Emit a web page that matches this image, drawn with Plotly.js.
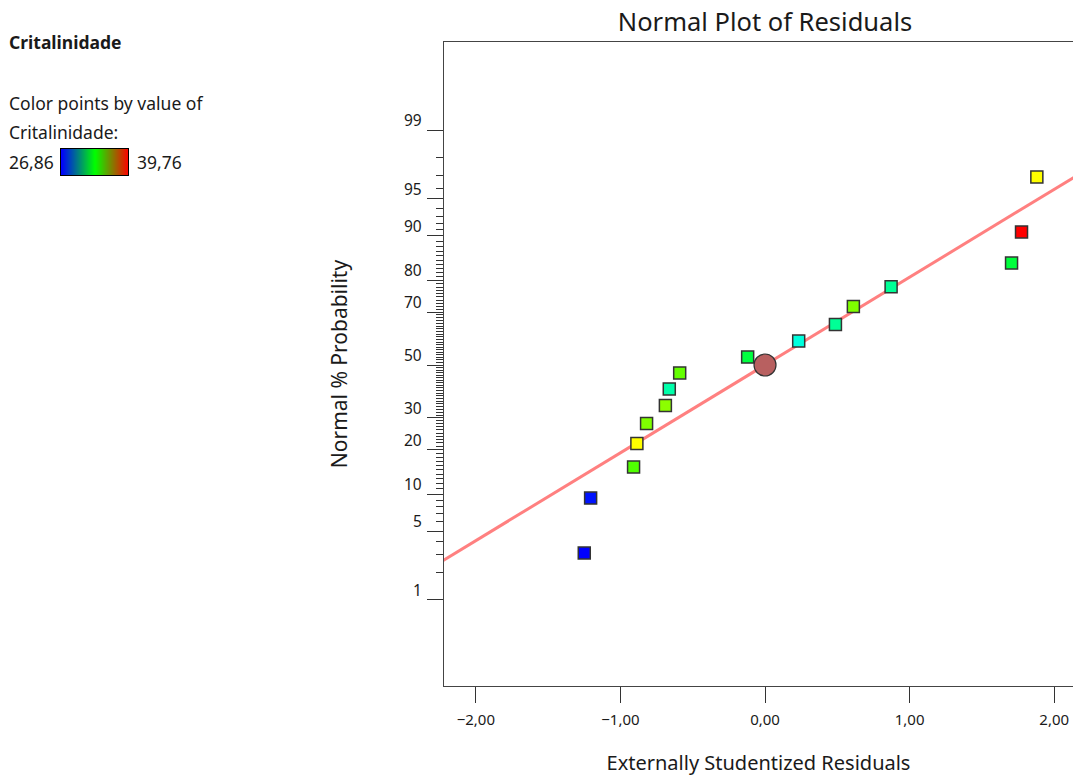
<!DOCTYPE html>
<html>
<head>
<meta charset="utf-8">
<script src="https://cdn.plot.ly/plotly-3.0.1.min.js"></script>
<style>
  html, body { margin: 0; padding: 0; background: #ffffff; }
  #chart { width: 1073px; height: 776px; }
</style>
</head>
<body>
<div id="chart"></div>
<script>
// Externally studentized residuals, sorted ascending
const residuals = [-1.250, -1.206, -0.909, -0.886, -0.819, -0.689, -0.662, -0.590,
                   -0.120, 0.233, 0.487, 0.611, 0.872, 1.705, 1.774, 1.880];
// Normal % probability of each ranked residual
const normalPct = [3.125, 9.375, 15.625, 21.875, 28.125, 34.375, 40.625, 46.875,
                   53.125, 59.375, 65.625, 71.875, 78.125, 84.375, 90.625, 96.875];
// Response value used to colour each point
const critalinidade = [26.86, 27.10, 34.32, 36.54, 34.92, 35.08, 31.16, 34.58,
                       32.50, 30.52, 31.41, 34.92, 31.41, 32.55, 39.76, 36.54];
const colorMin = 26.86;
const colorMax = 39.76;

// Probability axis ticks
const majorPct = [1, 5, 10, 20, 30, 50, 70, 80, 90, 95, 99];
const majorLabels = ['1', '5', '10', '20', '30', '50', '70', '80', '90', '95', '99'];

// Reference line through the origin (in normal-score units per residual unit)
const fitSlope = 0.87;
const fitX = [-2.4, 2.4];

const xTickVals = [-2, -1, 0, 1, 2];

// Inverse of the standard normal CDF (Acklam's rational approximation)
function probit(p) {
  const a = [-3.969683028665376e+01, 2.209460984245205e+02, -2.759285104469687e+02,
             1.383577518672690e+02, -3.066479806614716e+01, 2.506628277459239e+00];
  const b = [-5.447609879822406e+01, 1.615858368580409e+02, -1.556989798598866e+02,
             6.680131188771972e+01, -1.328068155288572e+01];
  const c = [-7.784894002430293e-03, -3.223964580411365e-01, -2.400758277161838e+00,
             -2.549732539343734e+00, 4.374664141464968e+00, 2.938163982698783e+00];
  const d = [7.784695709041462e-03, 3.224671290700398e-01, 2.445134137142996e+00,
             3.754408661907416e+00];
  const pl = 0.02425, ph = 1 - pl;
  let q, r;
  if (p < pl) {
    q = Math.sqrt(-2 * Math.log(p));
    return (((((c[0]*q+c[1])*q+c[2])*q+c[3])*q+c[4])*q+c[5]) /
           ((((d[0]*q+d[1])*q+d[2])*q+d[3])*q+1);
  }
  if (p <= ph) {
    q = p - 0.5; r = q * q;
    return (((((a[0]*r+a[1])*r+a[2])*r+a[3])*r+a[4])*r+a[5])*q /
           (((((b[0]*r+b[1])*r+b[2])*r+b[3])*r+b[4])*r+1);
  }
  q = Math.sqrt(-2 * Math.log(1 - p));
  return -(((((c[0]*q+c[1])*q+c[2])*q+c[3])*q+c[4])*q+c[5]) /
          ((((d[0]*q+d[1])*q+d[2])*q+d[3])*q+1);
}
const pctToZ = v => probit(v / 100);

// Minor ticks at every whole percent that has no label
const minorPct = [];
for (let k = 2; k <= 98; k++) if (!majorPct.includes(k)) minorPct.push(k);

const FONT = '"Noto Sans", "Open Sans", sans-serif';
const INK = '#1a1a1a';
const W = 1073, H = 776;
const M = { l: 0, r: 0, t: 42, b: 90 };
const plotH = H - M.t - M.b;
// page pixel -> paper fraction
const pxX = x => x / W;
const pxY = y => 1 - (y - M.t) / plotH;

const pointScale = [[0, '#0000ff'], [0.25, '#00ffff'], [0.5, '#00ff00'], [0.75, '#ffff00'], [1, '#ff0000']];
const keyScale = [[0, '#0000ff'], [0.5, '#00ff00'], [1, '#ff0000']];

const traces = [
  {
    type: 'scatter', mode: 'lines',
    x: fitX, y: fitX.map(x => fitSlope * x),
    line: { color: '#ff8080', width: 3 },
    hoverinfo: 'skip', showlegend: false
  },
  {
    type: 'scatter', mode: 'markers',
    x: [0], y: [pctToZ(50)],
    marker: { symbol: 'circle', size: 22, color: '#b86060', line: { color: '#333333', width: 1.2 } },
    hoverinfo: 'skip', showlegend: false
  },
  {
    type: 'scatter', mode: 'markers',
    x: residuals, y: normalPct.map(pctToZ),
    text: critalinidade.map(v => v.toFixed(2)),
    marker: {
      symbol: 'square', size: 12,
      color: critalinidade, cmin: colorMin, cmax: colorMax,
      colorscale: pointScale, showscale: false,
      line: { color: '#333333', width: 1.5 }
    },
    showlegend: false
  },
  {
    // colour key: a smooth gradient from the lowest to the highest response
    type: 'heatmap', xaxis: 'x2', yaxis: 'y2',
    x: [colorMin, colorMax], y: [0, 1],
    z: [[colorMin, colorMax], [colorMin, colorMax]],
    zmin: colorMin, zmax: colorMax,
    colorscale: keyScale, zsmooth: 'best', showscale: false,
    hoverinfo: 'skip'
  }
];

const annotations = majorPct.map((v, i) => ({
  xref: 'paper', yref: 'y',
  x: pxX(444), y: pctToZ(v),
  xanchor: 'right', yanchor: 'middle',
  xshift: -20, yshift: 10,
  text: majorLabels[i], showarrow: false,
  font: { family: FONT, size: 15.5, color: INK }
}));

const panelText = [
  { text: '<b>Critalinidade</b>', x: 7, y: 42 },
  { text: 'Color points by value of', x: 7, y: 103 },
  { text: 'Critalinidade:', x: 7, y: 132 },
  { text: '26,86', x: 7, y: 162 },
  { text: '39,76', x: 135, y: 162 }
];
panelText.forEach(t => annotations.push({
  xref: 'paper', yref: 'paper',
  x: pxX(t.x), y: pxY(t.y),
  xanchor: 'left', yanchor: 'middle',
  text: t.text, showarrow: false,
  font: { family: FONT, size: 17.5, color: INK }
}));

const layout = {
  width: W, height: H,
  margin: M,
  paper_bgcolor: '#ffffff', plot_bgcolor: '#ffffff',
  separators: ',.',
  font: { family: FONT, color: INK },
  title: {
    text: 'Normal Plot of Residuals',
    font: { family: FONT, size: 25.5, color: INK },
    xref: 'paper', x: pxX(765), xanchor: 'center',
    yref: 'container', y: 1 - 22 / H, yanchor: 'middle'
  },
  xaxis: {
    domain: [pxX(444), 1],
    range: [-2.22, 2.13],
    tickmode: 'array', tickvals: xTickVals, tickformat: '.2f',
    ticks: 'outside', ticklen: 16, tickwidth: 1, tickcolor: '#333333',
    ticklabelstandoff: 4,
    tickfont: { family: FONT, size: 15, color: INK },
    showgrid: false, zeroline: false,
    showline: true, linecolor: '#444444', linewidth: 1, mirror: true,
    title: { text: 'Externally Studentized Residuals', standoff: 33,
             font: { family: FONT, size: 20, color: INK } },
    fixedrange: true
  },
  yaxis: {
    range: [-3.18, 3.20],
    tickmode: 'array', tickvals: majorPct.map(pctToZ), showticklabels: false,
    ticks: 'outside', ticklen: 16, tickwidth: 1, tickcolor: '#333333',
    minor: {
      tickmode: 'array', tickvals: minorPct.map(pctToZ),
      ticks: 'outside', ticklen: 7, tickwidth: 1, tickcolor: '#333333', showgrid: false
    },
    showgrid: false, zeroline: false,
    showline: true, linecolor: '#444444', linewidth: 1,
    title: { text: 'Normal % Probability', standoff: 73,
             font: { family: FONT, size: 21, color: INK } },
    fixedrange: true
  },
  xaxis2: {
    domain: [pxX(61), pxX(128)], anchor: 'y2',
    range: [colorMin, colorMax],
    showticklabels: false, ticks: '', showgrid: false, zeroline: false,
    showline: true, mirror: true, linecolor: '#000000', linewidth: 1,
    fixedrange: true
  },
  yaxis2: {
    domain: [pxY(175), pxY(149)], anchor: 'x2',
    range: [0, 1],
    showticklabels: false, ticks: '', showgrid: false, zeroline: false,
    showline: true, mirror: true, linecolor: '#000000', linewidth: 1,
    fixedrange: true
  },
  annotations: annotations
};

Plotly.newPlot('chart', traces, layout, { displayModeBar: false, staticPlot: true });
</script>
</body>
</html>
